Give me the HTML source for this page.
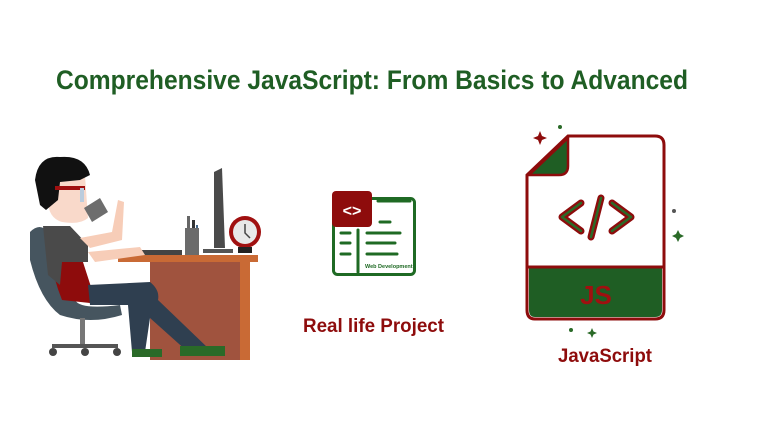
<!DOCTYPE html>
<html><head><meta charset="utf-8"><style>
html,body{margin:0;padding:0;background:#fff;width:760px;height:424px;overflow:hidden}
svg{display:block}
text{font-family:"Liberation Sans Narrow","Liberation Sans",sans-serif;font-weight:bold}
</style></head><body>
<svg width="760" height="424" viewBox="0 0 760 424">
<rect width="760" height="424" fill="#fff"/>
<text x="56" y="89" font-size="27" fill="#1f5e24" textLength="632" lengthAdjust="spacingAndGlyphs">Comprehensive JavaScript: From Basics to Advanced</text>

<!-- desk -->
<rect x="150" y="262" width="95" height="98" fill="#a0533e"/>
<rect x="240" y="262" width="10" height="98" fill="#c96a35"/>
<rect x="118" y="255" width="140" height="7" fill="#c96a35"/>
<!-- monitor -->
<path d="M214 172 L222 168 L225 248 L214 248 Z" fill="#4a4a4a"/>
<rect x="203" y="249" width="30" height="4" fill="#555"/>
<!-- pen cup -->
<rect x="187" y="216" width="3" height="12" fill="#666"/><rect x="192" y="220" width="3" height="10" fill="#333"/><rect x="196" y="225" width="2" height="6" fill="#468"/>
<rect x="185" y="228" width="14" height="27" fill="#6b6b6b"/>
<!-- keyboard -->
<rect x="130" y="250" width="52" height="5" fill="#444"/>
<!-- clock -->
<circle cx="245" cy="232" r="16" fill="#a01010"/>
<circle cx="245" cy="232" r="12" fill="#e8e8e8"/>
<path d="M245 224 V233 L250 238" stroke="#444" stroke-width="1.5" fill="none"/>
<rect x="238" y="247" width="14" height="6" fill="#222"/>
<!-- chair -->
<path d="M30 232 Q40 222 48 232 L75 300 Q80 310 120 305 L122 315 Q90 325 60 315 Q40 300 30 260 Z" fill="#46555f"/>
<rect x="80" y="318" width="5" height="28" fill="#777"/>
<path d="M52 346 H118" stroke="#555" stroke-width="4"/>
<circle cx="53" cy="352" r="4" fill="#444"/><circle cx="85" cy="352" r="4" fill="#444"/><circle cx="117" cy="352" r="4" fill="#444"/>
<!-- torso -->
<path d="M45 228 L72 228 L92 290 L90 303 L62 300 Q50 270 45 228 Z" fill="#8e0c0c"/>
<path d="M43 226 L70 226 L88 245 L88 262 L62 262 L60 285 L48 275 Z" fill="#4a4a4a"/>
<!-- arms -->
<path d="M88 252 L140 247 L145 255 L95 262 Z" fill="#f7cdb8"/>
<path d="M80 238 L112 232 L118 200 L124 202 L122 240 L90 248 Z" fill="#f7cdb8"/>
<!-- legs -->
<path d="M88 285 L150 282 Q160 290 158 300 L208 348 L188 352 L150 318 L145 352 L132 352 L128 305 L90 305 Z" fill="#2f3f50"/>
<rect x="132" y="349" width="30" height="8" fill="#2a6a28"/>
<rect x="180" y="346" width="45" height="10" fill="#2a6a28"/>
<!-- head -->
<path d="M48 178 Q48 172 60 172 L85 176 L88 218 Q80 225 62 222 Q48 218 48 200 Z" fill="#f9d9ca"/>
<path d="M35 180 Q38 155 60 157 Q85 155 90 175 L80 180 L60 182 L58 200 Q52 205 46 210 L40 205 Z" fill="#111"/>
<rect x="55" y="186" width="30" height="4" fill="#a01010"/>
<rect x="80" y="188" width="4" height="14" fill="#bcd"/>
<!-- cup -->
<path d="M84 208 L100 198 L108 212 L92 222 Z" fill="#6d6d6d"/>

<!-- web dev icon -->
<rect x="333.5" y="198.5" width="81" height="76" rx="4" fill="none" stroke="#1f6a24" stroke-width="3"/>
<rect x="332" y="191" width="40" height="36" rx="4" fill="#8e0c0c"/>
<text x="352" y="216" font-size="16" fill="#fff" text-anchor="middle">&lt;&gt;</text>
<g stroke="#1f6a24" stroke-width="3" stroke-linecap="round">
<path d="M378 201 H410"/><path d="M380 222 H390"/><path d="M367 233 H400"/><path d="M367 243 H395"/><path d="M367 254 H397"/>
<path d="M341 233 H350"/><path d="M341 243 H350"/><path d="M341 254 H350"/><path d="M358 230 V272"/>
</g>
<text x="365" y="268" font-size="5.5" fill="#1f6a24">Web Development</text>
<text x="303" y="332" font-size="19.5" fill="#8e0c0c" textLength="141" lengthAdjust="spacingAndGlyphs">Real life Project</text>

<!-- JS file -->
<path d="M568 136 H655 Q664 136 664 145 V310 Q664 319 655 319 H535 Q527 319 527 310 V175 Z" fill="#fff" stroke="#8e0c0c" stroke-width="3"/>
<path d="M529 267 H662 V310 Q662 317 655 317 H535 Q529 317 529 310 Z" fill="#1f5e24"/>
<path d="M527 267 H664" stroke="#8e0c0c" stroke-width="3"/>
<path d="M568 138 V166 Q568 175 559 175 H529 Z" fill="#1f5e24" stroke="#8e0c0c" stroke-width="2.5"/>
<g fill="none" stroke="#8e0c0c" stroke-width="7" stroke-linecap="round" stroke-linejoin="round">
<path d="M581 203 L562 217 L581 231"/><path d="M612 203 L631 217 L612 231"/><path d="M601 198 L591 237"/>
</g>
<g fill="none" stroke="#2a6a28" stroke-width="2.5" stroke-linecap="round" stroke-linejoin="round">
<path d="M581 203 L562 217 L581 231"/><path d="M612 203 L631 217 L612 231"/><path d="M601 198 L591 237"/>
</g>
<text x="596" y="304" font-size="26" fill="#a01010" text-anchor="middle" font-weight="normal">JS</text>
<path d="M540 131 l2 5 l5 2 l-5 2 l-2 5 l-2 -5 l-5 -2 l5 -2 Z" fill="#8e0c0c"/>
<circle cx="560" cy="127" r="2" fill="#2a6a28"/>
<circle cx="674" cy="211" r="2" fill="#555"/>
<path d="M678 230 l2 4 l4 2 l-4 2 l-2 4 l-2 -4 l-4 -2 l4 -2 Z" fill="#2a6a28"/>
<circle cx="571" cy="330" r="2" fill="#2a6a28"/>
<path d="M592 328 l1.5 3.5 l3.5 1.5 l-3.5 1.5 l-1.5 3.5 l-1.5 -3.5 l-3.5 -1.5 l3.5 -1.5 Z" fill="#2a6a28"/>
<text x="558" y="362" font-size="19.5" fill="#8e0c0c" textLength="94" lengthAdjust="spacingAndGlyphs">JavaScript</text>
</svg>
</body></html>
